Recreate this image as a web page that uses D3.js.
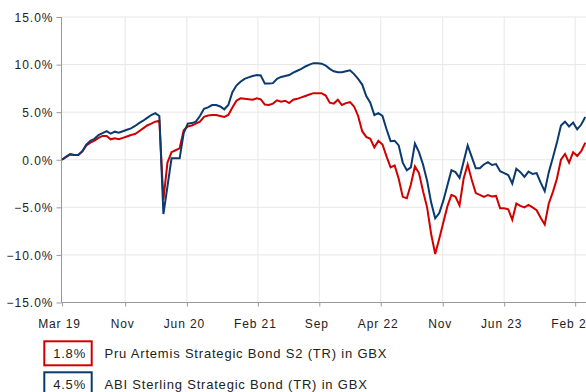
<!DOCTYPE html>
<html>
<head>
<meta charset="utf-8">
<script src="https://cdn.jsdelivr.net/npm/d3@7"></script>
<style>
  html, body { margin: 0; padding: 0; background: #fff; }
  svg { display: block; }
  text { font-family: "Liberation Sans", Arial, sans-serif; fill: #222; }
</style>
</head>
<body>
<svg id="chart" width="586" height="392"></svg>
<script>
// Cumulative total return (%), sampled every 14 days from the start date
const startDate = "2019-03-28";
const sampleStepDays = 14;

const pruArtemis = [
  0.0, 0.3, 0.55, 0.5, 0.5, 0.85, 1.5, 1.8, 2.0, 2.3,
  2.5, 2.5, 2.15, 2.25, 2.15, 2.3, 2.45, 2.6, 2.7, 3.0,
  3.3, 3.6, 3.8, 4.0, 4.1, -4.2, -0.3, 0.8, 1.0, 1.2,
  3.1, 3.5, 3.6, 3.8, 4.0, 4.5, 4.65, 4.7, 4.7, 4.6,
  4.5, 4.7, 5.5, 6.2, 6.45, 6.4, 6.35, 6.3, 6.45, 6.35,
  5.8, 5.75, 5.9, 6.25, 6.1, 6.2, 5.95, 6.3, 6.4, 6.55,
  6.7, 6.85, 7.0, 7.0, 7.0, 6.75, 6.0, 5.9, 6.3, 5.75,
  5.95, 6.05, 5.6, 4.6, 3.0, 2.4, 2.2, 1.3, 2.0, 1.6,
  0.35, -0.8, -0.6, -2.0, -3.9, -4.05, -2.6, -0.7, -1.4, -3.3,
  -5.0, -7.8, -9.9, -8.3, -6.6, -4.9, -3.7, -3.9, -4.8, -2.0,
  -0.5, -2.1, -3.5, -3.7, -3.9, -3.7, -3.85, -3.8, -5.1, -5.1,
  -5.2, -6.3, -4.6, -4.85, -5.0, -4.75, -5.0, -5.3, -6.1, -6.8,
  -4.6, -3.4, -2.0, 0.0, 0.6, -0.3, 0.8, 0.4, 0.9, 1.8
];

const abiSterling = [
  0.0, 0.3, 0.6, 0.5, 0.5, 0.9, 1.6, 2.0, 2.2, 2.6,
  2.8, 3.0, 2.75, 2.95, 2.85, 3.0, 3.15, 3.3, 3.55, 3.85,
  4.1, 4.4, 4.7, 4.9, 4.6, -5.7, -2.8, 0.15, 0.15, 0.15,
  2.8, 3.8, 3.85, 4.0, 4.6, 5.35, 5.5, 5.75, 5.75, 5.6,
  5.3, 5.75, 7.1, 7.8, 8.2, 8.5, 8.65, 8.8, 8.9, 8.85,
  8.0, 8.0, 8.05, 8.5, 8.7, 8.8, 8.9, 9.15, 9.35, 9.55,
  9.8, 10.0, 10.15, 10.15, 10.1, 9.9, 9.55, 9.3, 9.2, 9.2,
  9.3, 9.4, 9.0, 8.5, 7.9, 6.7, 6.0, 4.7, 4.9, 4.6,
  3.2, 1.95, 2.0, 1.5, -0.3, -1.1, -0.8, 1.7, 0.8, -0.5,
  -2.2, -4.5, -6.15, -5.6, -4.3, -2.7, -1.1, -1.3, -1.9, -0.2,
  1.5, 0.3, -0.9, -0.9, -0.5, -0.25, -0.55, -0.45, -1.2, -1.4,
  -1.6, -2.5, -0.95, -1.3, -1.8, -1.25, -1.5, -1.4, -2.4, -3.3,
  -1.3, 0.2, 1.8, 3.6, 4.0, 3.5, 3.9, 3.2, 3.7, 4.5
];

const tickDates = [
  "2019-03-28", "2019-11-01", "2020-06-01", "2021-02-01", "2021-09-01",
  "2022-04-01", "2022-11-01", "2023-06-01", "2024-02-01"
];
const tickLabels = ["Mar 19", "Nov", "Jun 20", "Feb 21", "Sep", "Apr 22", "Nov", "Jun 23", "Feb 24"];
const yTicks = [-15, -10, -5, 0, 5, 10, 15];

const legendNames = [
  "Pru Artemis Strategic Bond S2 (TR) in GBX",
  "ABI Sterling Strategic Bond (TR) in GBX"
];
const legendColors = ["#d00000", "#0b3a6e"];

// ---- build the series ----
const parse = d3.utcParse("%Y-%m-%d");
const t0 = parse(startDate);
const dates = pruArtemis.map((_, i) => d3.utcDay.offset(t0, i * sampleStepDays));
const series = [
  { name: legendNames[0], color: legendColors[0], values: pruArtemis.map((v, i) => ({ date: dates[i], v })) },
  { name: legendNames[1], color: legendColors[1], values: abiSterling.map((v, i) => ({ date: dates[i], v })) }
];

// ---- layout ----
const plot = { left: 62, right: 585.3, top: 17, bottom: 302.5 };
const svg = d3.select("#chart");

const x = d3.scaleUtc()
  .domain([dates[0], dates[dates.length - 1]])
  .range([plot.left, plot.right]);
const y = d3.scaleLinear().domain([-15, 15]).range([plot.bottom, plot.top]);

const tickDateObjs = tickDates.map(parse);

// gridlines
const grid = svg.append("g");
grid.selectAll("line.h").data(yTicks).join("line")
  .attr("x1", plot.left).attr("x2", 586)
  .attr("y1", d => y(d)).attr("y2", d => y(d))
  .attr("stroke", "#e7e7e7").attr("stroke-width", 1);
grid.selectAll("line.v").data(tickDateObjs.slice(1)).join("line")
  .attr("x1", d => x(d)).attr("x2", d => x(d))
  .attr("y1", plot.top).attr("y2", plot.bottom)
  .attr("stroke", "#e7e7e7").attr("stroke-width", 1);

// y axis
const yAxis = svg.append("g")
  .attr("transform", `translate(${plot.left - 0.5},0)`)
  .call(d3.axisLeft(y).tickValues(yTicks).tickSize(5).tickPadding(4)
    .tickFormat(d => d3.format(".1f")(d) + "%"));
yAxis.select(".domain").attr("stroke", "#999").attr("d", `M0,${plot.top}V${plot.bottom}`);
yAxis.selectAll(".tick line").attr("stroke", "#999");
yAxis.selectAll(".tick text")
  .attr("font-size", 12).attr("letter-spacing", "1px")
  .attr("font-family", "Liberation Sans, Arial, sans-serif").attr("fill", "#222")
  .attr("dy", "0.36em").attr("x", -8);

// x axis
const xAxis = svg.append("g")
  .attr("transform", `translate(0,${plot.bottom})`)
  .call(d3.axisBottom(x).tickValues(tickDateObjs).tickSize(4).tickPadding(13)
    .tickFormat((d, i) => tickLabels[i]));
xAxis.select(".domain").attr("stroke", "#999").attr("d", `M${plot.left - 0.5},0H586`);
xAxis.selectAll(".tick line").attr("stroke", "#999");
xAxis.selectAll(".tick text")
  .attr("font-size", 12).attr("letter-spacing", "0.9px")
  .attr("font-family", "Liberation Sans, Arial, sans-serif").attr("fill", "#222")
  .attr("dy", "0.71em").attr("x", -3);

// lines
const line = d3.line().x(d => x(d.date)).y(d => y(d.v));
svg.append("g").selectAll("path").data(series).join("path")
  .attr("d", d => line(d.values))
  .attr("fill", "none")
  .attr("stroke", d => d.color)
  .attr("stroke-width", 2)
  .attr("stroke-linejoin", "miter");

// legend
const legend = svg.append("g");
const rowGap = 31;
const rows = legend.selectAll("g").data(series).join("g")
  .attr("transform", (d, i) => `translate(0,${i * rowGap})`);
rows.append("rect")
  .attr("x", 44.3).attr("y", 341.3).attr("width", 47.4).attr("height", 24)
  .attr("fill", "#fff").attr("stroke", d => d.color).attr("stroke-width", 2);
rows.append("text")
  .attr("x", 86).attr("y", 357.7).attr("text-anchor", "end")
  .attr("font-size", 13).attr("letter-spacing", "0.8px")
  .text(d => d3.format(".1f")(d.values[d.values.length - 1].v) + "%");
rows.append("text")
  .attr("x", 104.5).attr("y", 357.7)
  .attr("font-size", 13).attr("letter-spacing", "0.8px")
  .text(d => d.name);
</script>
</body>
</html>
